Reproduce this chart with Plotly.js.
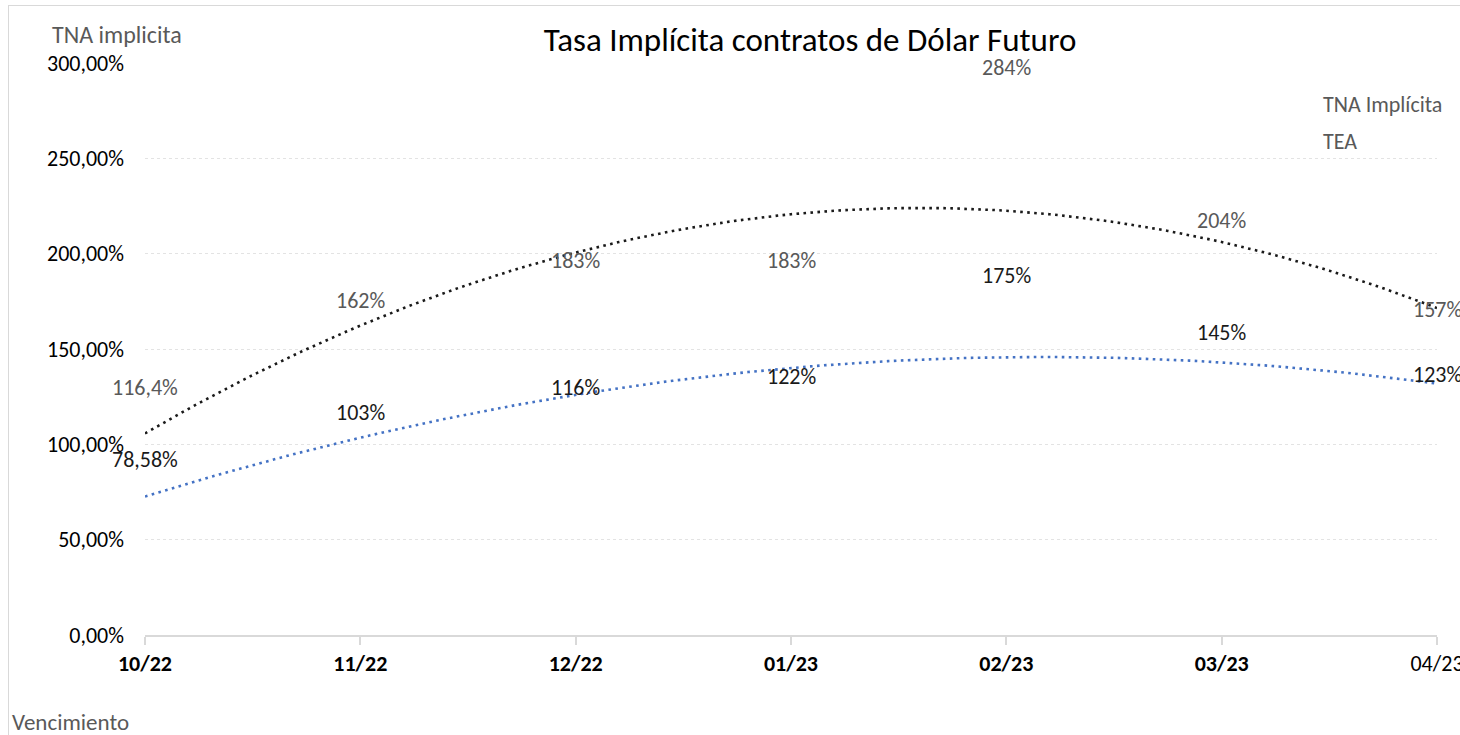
<!DOCTYPE html>
<html>
<head>
<meta charset="utf-8">
<script src="https://cdn.plot.ly/plotly-3.0.1.min.js"></script>
<style>
  html, body { margin: 0; padding: 0; background: #ffffff; }
  #wrap { position: relative; width: 1460px; height: 735px; overflow: hidden; }
  #chart { position: absolute; left: 0; top: 0; width: 1460px; height: 735px; }
  #frame { position: absolute; left: 8px; top: 5px; width: 1470px; height: 745px;
           border: 1.5px solid #d9d9d9; pointer-events: none; box-sizing: border-box; }
</style>
</head>
<body>
<div id="wrap">
  <div id="chart"></div>
  <div id="frame"></div>
</div>
<script>
// ---- data ----
const months = ["10/22", "11/22", "12/22", "01/23", "02/23", "03/23", "04/23"];
const monthBold = [true, true, true, true, true, true, false];
const tnaValues = [78.58, 103, 116, 122, 175, 145, 123];
const tnaLabels = ["78,58%", "103%", "116%", "122%", "175%", "145%", "123%"];
const teaValues = [116.4, 162, 183, 183, 284, 204, 157];
const teaLabels = ["116,4%", "162%", "183%", "183%", "284%", "204%", "157%"];
const yTicks = [0, 50, 100, 150, 200, 250, 300];
const yTickLabels = ["0,00%", "50,00%", "100,00%", "150,00%", "200,00%", "250,00%", "300,00%"];

// ---- Excel-like polynomial (order 2) trendline ----
function quadFit(xs, ys) {
  const n = xs.length;
  let s = [0, 0, 0, 0, 0], t = [0, 0, 0];
  for (let i = 0; i < n; i++) {
    const x = xs[i], y = ys[i];
    for (let k = 0; k <= 4; k++) s[k] += Math.pow(x, k);
    for (let k = 0; k <= 2; k++) t[k] += Math.pow(x, k) * y;
  }
  const A = [[s[0], s[1], s[2], t[0]], [s[1], s[2], s[3], t[1]], [s[2], s[3], s[4], t[2]]];
  for (let i = 0; i < 3; i++) {
    for (let j = i + 1; j < 3; j++) {
      const f = A[j][i] / A[i][i];
      for (let k = i; k < 4; k++) A[j][k] -= f * A[i][k];
    }
  }
  const c = [0, 0, 0];
  for (let i = 2; i >= 0; i--) {
    let v = A[i][3];
    for (let k = i + 1; k < 3; k++) v -= A[i][k] * c[k];
    c[i] = v / A[i][i];
  }
  return x => c[0] + c[1] * x + c[2] * x * x;
}

const xIdx = months.map((_, i) => i);
const fine = [];
for (let x = 0; x <= months.length - 1 + 1e-9; x += 0.05) fine.push(+x.toFixed(2));
const teaFit = quadFit(xIdx, teaValues);
const tnaFit = quadFit(xIdx, tnaValues);

const FONT = "Carlito, Calibri, Lato, sans-serif";
const GRAY = "#595959";

const traces = [
  { x: xIdx, y: tnaValues, name: "TNA Implícita", type: "scatter", mode: "lines",
    line: { width: 0, color: "rgba(0,0,0,0)" }, legend: "legend", hoverinfo: "skip" },
  { x: xIdx, y: teaValues, name: "TEA", type: "scatter", mode: "lines",
    line: { width: 0, color: "rgba(0,0,0,0)" }, legend: "legend2", hoverinfo: "skip" },
  { x: fine, y: fine.map(teaFit), type: "scatter", mode: "lines", showlegend: false,
    line: { color: "#1a1a1a", width: 2.6, dash: "2.6px,4.4px" }, hoverinfo: "skip" },
  { x: fine, y: fine.map(tnaFit), type: "scatter", mode: "lines", showlegend: false,
    line: { color: "#4472c4", width: 2.6, dash: "2.6px,4.4px" }, hoverinfo: "skip" }
];

const annotations = [];
tnaValues.forEach((v, i) => annotations.push({
  x: i, y: v, xref: "x", yref: "y", text: tnaLabels[i], showarrow: false,
  yshift: 26, font: { family: FONT, size: 22, color: "#1a1a1a" }
}));
teaValues.forEach((v, i) => annotations.push({
  x: i, y: v, xref: "x", yref: "y", text: teaLabels[i], showarrow: false,
  yshift: 26, font: { family: FONT, size: 22, color: GRAY }
}));

const L = 145, R = 23, T = 63, B = 100, W = 1460, H = 735;
const pw = W - L - R, ph = H - T - B;
annotations.push({
  text: "TNA implicita", xref: "paper", yref: "paper",
  x: (50 - L) / pw, y: (H - B - 34) / ph, xanchor: "left", yanchor: "middle",
  showarrow: false, font: { family: FONT, size: 24, color: GRAY }
});
annotations.push({
  text: "Vencimiento", xref: "paper", yref: "paper",
  x: (10 - L) / pw, y: (H - B - 722) / ph, xanchor: "left", yanchor: "middle",
  showarrow: false, font: { family: FONT, size: 23, color: GRAY }
});

const layout = {
  width: W, height: H,
  margin: { l: L, r: R, t: T, b: B, autoexpand: false },
  paper_bgcolor: "#ffffff", plot_bgcolor: "#ffffff",
  separators: ",.",
  font: { family: FONT, color: "#000000" },
  title: { text: "Tasa Implícita contratos de Dólar Futuro",
           font: { family: FONT, size: 33, color: "#000000" },
           x: 810 / W, xanchor: "center", y: 1 - 39 / H, yanchor: "middle" },
  xaxis: {
    type: "linear", range: [0, months.length - 1],
    tickmode: "array", tickvals: xIdx,
    ticktext: months.map((m, i) => monthBold[i] ? "<b>" + m + "</b>" : m),
    showgrid: false, zeroline: false,
    showline: true, linecolor: "#d9d9d9", linewidth: 2,
    ticks: "outside", ticklen: 8, tickwidth: 2, tickcolor: "#d9d9d9",
    tickfont: { family: FONT, size: 22, color: "#000000" },
    ticklabelstandoff: 0, ticklabeloverflow: "allow"
  },
  yaxis: {
    range: [0, 300], tickmode: "array", tickvals: yTicks, ticktext: yTickLabels,
    showgrid: true, gridcolor: "#e3e3e3", gridwidth: 1, griddash: "dot",
    zeroline: false, showline: false, ticks: "",
    tickfont: { family: FONT, size: 22, color: "#000000" },
    ticklabelstandoff: 20
  },
  legend: {
    xref: "container", yref: "container", x: 1283 / W, y: 1 - 104 / H,
    xanchor: "left", yanchor: "middle", bgcolor: "rgba(0,0,0,0)",
    font: { family: FONT, size: 22, color: GRAY }
  },
  legend2: {
    xref: "container", yref: "container", x: 1283 / W, y: 1 - 141 / H,
    xanchor: "left", yanchor: "middle", bgcolor: "rgba(0,0,0,0)",
    font: { family: FONT, size: 22, color: GRAY }
  },
  annotations: annotations,
  showlegend: true
};

Plotly.newPlot("chart", traces, layout, { displayModeBar: false, staticPlot: true });
</script>
</body>
</html>
